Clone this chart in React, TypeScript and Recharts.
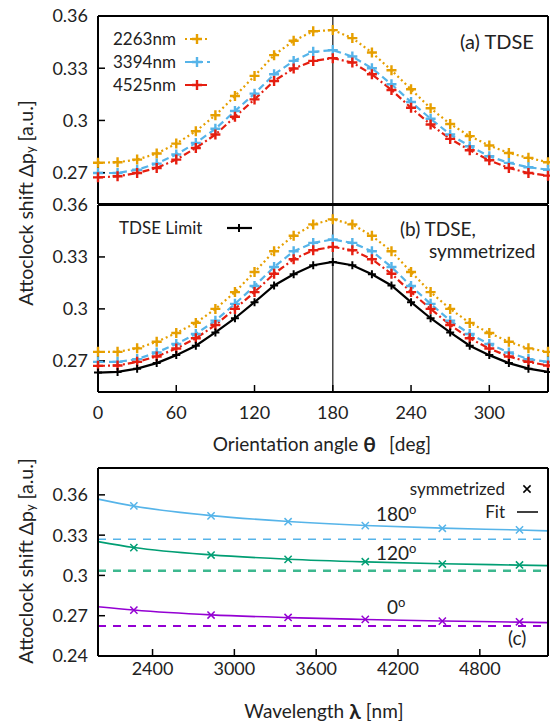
import React from "react";
import { ComposedChart, Line, Scatter, XAxis, YAxis, ReferenceLine, Legend } from "recharts";

// orientation angle grid [deg]
const theta = [0, 15, 30, 45, 60, 75, 90, 105, 120, 135, 150, 165, 180, 195, 210, 225, 240, 255, 270, 285, 300, 315, 330, 345];
const thetaTicks = [0, 60, 120, 180, 240, 300];
const shiftTicks = [0.27, 0.3, 0.33, 0.36];

// (a) TDSE
const tdse2263 = [0.2757, 0.276, 0.2775, 0.281, 0.2867, 0.2938, 0.303, 0.314, 0.3256, 0.3375, 0.3458, 0.3512, 0.3519, 0.3473, 0.339, 0.3288, 0.3179, 0.307, 0.298, 0.291, 0.2856, 0.2813, 0.2785, 0.276];
const tdse3394 = [0.2698, 0.2698, 0.2717, 0.2752, 0.2804, 0.2871, 0.2952, 0.3054, 0.3154, 0.3265, 0.3342, 0.3394, 0.3404, 0.3367, 0.33, 0.3208, 0.3106, 0.301, 0.2919, 0.2852, 0.2794, 0.2756, 0.2731, 0.2717];
const tdse4525 = [0.2673, 0.2679, 0.2698, 0.2727, 0.2775, 0.2842, 0.2919, 0.3021, 0.3121, 0.3227, 0.3298, 0.3342, 0.3358, 0.3333, 0.3265, 0.3175, 0.3073, 0.2977, 0.2894, 0.2829, 0.2771, 0.2727, 0.2698, 0.2683];

// (b) TDSE, symmetrized
const sym2263 = [0.2752, 0.2752, 0.2772, 0.281, 0.2861, 0.2919, 0.3, 0.3097, 0.3213, 0.3333, 0.3422, 0.3488, 0.3517, 0.3488, 0.3422, 0.3333, 0.3213, 0.3097, 0.3, 0.2919, 0.2861, 0.281, 0.2772, 0.2752];
const sym3394 = [0.2694, 0.2694, 0.271, 0.2748, 0.2797, 0.2855, 0.2932, 0.3029, 0.3132, 0.3242, 0.3333, 0.3381, 0.3401, 0.3381, 0.3333, 0.3242, 0.3132, 0.3029, 0.2932, 0.2855, 0.2797, 0.2748, 0.271, 0.2694];
const sym4525 = [0.2671, 0.2673, 0.2694, 0.2725, 0.2771, 0.283, 0.2907, 0.3, 0.3097, 0.3203, 0.3287, 0.3339, 0.3358, 0.3339, 0.3287, 0.3203, 0.3097, 0.3, 0.2907, 0.283, 0.2771, 0.2725, 0.2694, 0.2673];
const tdseLimit = [0.2632, 0.2636, 0.2655, 0.2687, 0.2733, 0.2787, 0.2864, 0.2946, 0.3039, 0.3135, 0.32, 0.3252, 0.3271, 0.3252, 0.32, 0.3135, 0.3039, 0.2946, 0.2864, 0.2787, 0.2733, 0.2687, 0.2655, 0.2636];

// (c) shift vs wavelength
const lambdas = [2263, 2829, 3394, 3960, 4525, 5091];
const symAt180 = [0.3518, 0.3443, 0.34, 0.3371, 0.3351, 0.3339];
const symAt120 = [0.3207, 0.3152, 0.312, 0.3102, 0.3085, 0.3078];
const symAt0 = [0.2742, 0.2705, 0.2687, 0.2673, 0.266, 0.2655];
const fitLambdas = [2000, 2263, 2829, 3394, 3960, 4525, 5091, 5300];
const fitAt180 = [0.3568, 0.3516, 0.3445, 0.3402, 0.3372, 0.3352, 0.3338, 0.3332];
const fitAt120 = [0.3252, 0.3208, 0.3153, 0.3121, 0.3101, 0.3087, 0.3077, 0.3073];
const fitAt0 = [0.2767, 0.2742, 0.2706, 0.2686, 0.2672, 0.2661, 0.2652, 0.2648];
const limitAt = [0.327, 0.3035, 0.2623]; // 180, 120, 0 deg
const lambdaTicks = [2400, 3000, 3600, 4200, 4800];
const shiftTicksC = [0.24, 0.27, 0.3, 0.33, 0.36];

const FONT = "Lato, 'Open Sans', sans-serif";
const TEXT = "#222";

const ORANGE = "#E69F00";
const BLUE = "#56B4E9";
const RED = "#E51E10";
const GREEN = "#009E73";
const PURPLE = "#9400D3";

const seriesA = [
  { key: "w2263", name: "2263nm", color: ORANGE, dash: "2 3", values: tdse2263 },
  { key: "w3394", name: "3394nm", color: BLUE, dash: "7 4", values: tdse3394 },
  { key: "w4525", name: "4525nm", color: RED, dash: "7 3 2 3", values: tdse4525 },
];
const seriesB = [
  { key: "w2263", name: "2263nm", color: ORANGE, dash: "2 3", values: sym2263 },
  { key: "w3394", name: "3394nm", color: BLUE, dash: "7 4", values: sym3394 },
  { key: "w4525", name: "4525nm", color: RED, dash: "7 3 2 3", values: sym4525 },
  { key: "limit", name: "TDSE Limit", color: "#000", dash: undefined, values: tdseLimit },
];
const seriesC = [
  { name: "180", color: BLUE, dashColor: BLUE, dashWidth: 1.5, sym: symAt180, fit: fitAt180, limit: limitAt[0] },
  { name: "120", color: GREEN, dashColor: "#3DB88F", dashWidth: 2.5, sym: symAt120, fit: fitAt120, limit: limitAt[1] },
  { name: "0", color: PURPLE, dashColor: PURPLE, dashWidth: 2, sym: symAt0, fit: fitAt0, limit: limitAt[2] },
];

const rowsA = theta.map((t, i) => {
  const row: any = { theta: t };
  seriesA.forEach((s) => (row[s.key] = s.values[i]));
  return row;
});
const rowsB = theta.map((t, i) => {
  const row: any = { theta: t };
  seriesB.forEach((s) => (row[s.key] = s.values[i]));
  return row;
});

const Plus = ({ cx, cy, color, size = 5, width = 2.4 }: any) =>
  cx == null || cy == null ? null : (
    <path d={`M${cx - size},${cy}H${cx + size}M${cx},${cy - size}V${cy + size}`} stroke={color} strokeWidth={width} fill="none" />
  );

const Cross = ({ cx, cy, fill, size = 3.6 }: any) =>
  cx == null || cy == null ? null : (
    <path
      d={`M${cx - size},${cy - size}L${cx + size},${cy + size}M${cx - size},${cy + size}L${cx + size},${cy - size}`}
      stroke={fill}
      strokeWidth={1.5}
      fill="none"
    />
  );

const tickStyle = { fill: TEXT, fontSize: 18, fontFamily: FONT };
const axisLine = { stroke: "#000", strokeWidth: 2 };
const tickLine = { stroke: "#000", strokeWidth: 1.5 };
const fmt = (v: number) => String(v);

const YTitle = ({ cx, cy }: any) => (
  <text x={cx} y={cy} transform={`rotate(-90 ${cx} ${cy})`} textAnchor="middle" dominantBaseline="central" fontFamily={FONT} fontSize={19.5} fill={TEXT}>
    Attoclock shift Δp
    <tspan fontSize={13} dy={5}>y</tspan>
    <tspan dy={-5} dx={5}>[a.u.]</tspan>
  </text>
);

const XTitle = ({ cx, cy, children, sym }: any) => (
  <text x={cx} y={cy} textAnchor="middle" dominantBaseline="central" fontFamily={FONT} fontSize={19} fill={TEXT}>
    {children}
    <tspan dx={5} fontWeight="bold" fontSize={21}>{sym}</tspan>
    <tspan dx={sym === "θ" ? 13 : 5}>[{sym === "θ" ? "deg" : "nm"}]</tspan>
  </text>
);

const legendRow = { display: "flex", alignItems: "center", height: 23, whiteSpace: "nowrap" as const };

const LegendAB = ({ rows, textWidth }: any) => (
  <div style={{ fontFamily: FONT, fontSize: 17, color: TEXT }}>
    {rows.map((r: any) => (
      <div key={r.name} style={legendRow}>
        <span style={{ width: textWidth }}>{r.name}</span>
        <svg width={26} height={14}>
          <line x1={0} y1={7} x2={25} y2={7} stroke={r.color} strokeWidth={2.2} strokeDasharray={r.dash} />
          <Plus cx={12} cy={7} color={r.color} size={r.dash ? 5 : 4} width={r.dash ? 2.4 : 2} />
        </svg>
      </div>
    ))}
  </div>
);

const LegendC = () => (
  <div style={{ fontFamily: FONT, fontSize: 17, color: TEXT }}>
    <div style={legendRow}>
      <span style={{ width: 106, textAlign: "right" }}>symmetrized</span>
      <svg width={34} height={14}>
        <Cross cx={22} cy={7} fill="#000" />
      </svg>
    </div>
    <div style={legendRow}>
      <span style={{ width: 106, textAlign: "right" }}>Fit</span>
      <svg width={34} height={14}>
        <line x1={12} y1={7} x2={33} y2={7} stroke="#000" strokeWidth={1.5} />
      </svg>
    </div>
  </div>
);

const Note = ({ x, y, size = 19, children }: any) => (
  <div style={{ position: "absolute", left: x, top: y - size * 0.53, fontSize: size, lineHeight: 1, color: TEXT, whiteSpace: "nowrap", fontFamily: FONT }}>
    {children}
  </div>
);

const Deg = ({ v }: any) => (
  <>
    {v}
    <sup style={{ fontSize: 13, verticalAlign: "0.55em", lineHeight: 0 }}>o</sup>
  </>
);

const thetaAxes = (bottomHeight: number, showLabels: boolean, title?: any) => [
  <XAxis
    key="xb"
    dataKey="theta"
    type="number"
    domain={[0, 345]}
    ticks={thetaTicks}
    interval={0}
    height={bottomHeight}
    tickSize={-7}
    tickMargin={21}
    tick={showLabels ? tickStyle : false}
    axisLine={axisLine}
    tickLine={tickLine}
    label={title}
  />,
  <XAxis key="xt" xAxisId="top" orientation="top" dataKey="theta" type="number" domain={[0, 345]} ticks={thetaTicks} interval={0} height={1} tickSize={-7} tick={false} axisLine={axisLine} tickLine={tickLine} />,
];

const shiftAxes = (title?: any) => [
  <YAxis key="yl" type="number" domain={[0.252, 0.36]} ticks={shiftTicks} interval={0} width={60} tickSize={-7} tickMargin={17} tick={tickStyle} tickFormatter={fmt} axisLine={axisLine} tickLine={tickLine} allowDataOverflow label={title} />,
  <YAxis key="yr" yAxisId="right" orientation="right" type="number" domain={[0.252, 0.36]} ticks={shiftTicks} interval={0} width={1} tickSize={-7} tick={false} axisLine={axisLine} tickLine={tickLine} allowDataOverflow />,
];

const thetaLines = (series: any[]) =>
  series.map((s) => (
    <Line
      key={s.key}
      type="linear"
      dataKey={s.key}
      name={s.name}
      stroke={s.color}
      strokeWidth={2.2}
      strokeDasharray={s.dash}
      dot={(p: any) => <Plus key={`${s.key}-${p.index}`} cx={p.cx} cy={p.cy} color={s.color} size={s.dash ? 5 : 4} width={s.dash ? 2.4 : 2} />}
      activeDot={false}
      isAnimationActive={false}
    />
  ));

export default function App() {
  return (
    <div style={{ position: "absolute", left: 0, top: 0, width: 550, height: 721, background: "#fff", fontFamily: FONT, overflow: "hidden" }}>
      {/* (a) TDSE */}
      <div style={{ position: "absolute", left: 0, top: 0 }}>
        <ComposedChart width={550} height={210} data={rowsA} margin={{ top: 15, right: 1, bottom: 5, left: 38 }}>
          {thetaAxes(1, false)}
          {shiftAxes()}
          <ReferenceLine x={180} stroke="#444" strokeWidth={1.5} />
          {thetaLines(seriesA)}
          <Legend
            layout="vertical"
            align="center"
            verticalAlign="middle"
            content={() => <LegendAB rows={seriesA} textWidth={72} />}
            wrapperStyle={{ left: 113, top: 27, width: 110, height: 70 }}
          />
        </ComposedChart>
      </div>

      {/* (b) TDSE, symmetrized */}
      <div style={{ position: "absolute", left: 0, top: 0 }}>
        <ComposedChart width={550} height={460} data={rowsB} margin={{ top: 204, right: 1, bottom: 28, left: 38 }}>
          {thetaAxes(40, true, <XTitle cx={322} cy={443} sym="θ">Orientation angle</XTitle>)}
          {shiftAxes(<YTitle cx={25} cy={203} />)}
          <ReferenceLine x={180} stroke="#444" strokeWidth={1.5} />
          {thetaLines(seriesB)}
          <Legend
            layout="vertical"
            align="center"
            verticalAlign="middle"
            content={() => <LegendAB rows={seriesB.slice(3)} textWidth={108} />}
            wrapperStyle={{ left: 119, top: 216, width: 140, height: 23 }}
          />
        </ComposedChart>
      </div>

      {/* (c) wavelength dependence */}
      <div style={{ position: "absolute", left: 0, top: 440 }}>
        <ComposedChart width={550} height={281} margin={{ top: 27, right: 1, bottom: 25, left: 38 }}>
          <XAxis
            dataKey="lambda"
            type="number"
            domain={[2000, 5300]}
            ticks={lambdaTicks}
            interval={0}
            height={40}
            tickSize={-7}
            tickMargin={13}
            tick={tickStyle}
            axisLine={axisLine}
            tickLine={tickLine}
            allowDataOverflow
            label={<XTitle cx={324} cy={270} sym="λ">Wavelength</XTitle>}
          />
          <XAxis xAxisId="top" orientation="top" dataKey="lambda" type="number" domain={[2000, 5300]} ticks={lambdaTicks} interval={0} height={1} tickSize={-7} tick={false} axisLine={axisLine} tickLine={tickLine} allowDataOverflow />
          <YAxis
            dataKey="v"
            type="number"
            domain={[0.24, 0.38]}
            ticks={shiftTicksC}
            interval={0}
            width={60}
            tickSize={-7}
            tickMargin={17}
            tick={tickStyle}
            tickFormatter={fmt}
            axisLine={axisLine}
            tickLine={tickLine}
            allowDataOverflow
            label={<YTitle cx={25} cy={121} />}
          />
          <YAxis yAxisId="right" orientation="right" dataKey="v" type="number" domain={[0.24, 0.38]} ticks={shiftTicksC} interval={0} width={1} tickSize={-7} tick={false} axisLine={axisLine} tickLine={tickLine} allowDataOverflow />
          {seriesC.map((s) => (
            <ReferenceLine key={`lim-${s.name}`} y={s.limit} stroke={s.dashColor} strokeWidth={s.dashWidth} strokeDasharray="8 7" />
          ))}
          {seriesC.map((s) => (
            <Line
              key={`fit-${s.name}`}
              data={fitLambdas.map((l, i) => ({ lambda: l, v: s.fit[i] }))}
              dataKey="v"
              type="monotone"
              stroke={s.color}
              strokeWidth={1.6}
              dot={false}
              activeDot={false}
              isAnimationActive={false}
            />
          ))}
          {seriesC.map((s) => (
            <Scatter
              key={`sym-${s.name}`}
              data={lambdas.map((l, i) => ({ lambda: l, v: s.sym[i] }))}
              dataKey="v"
              fill={s.color}
              shape={(p: any) => <Cross cx={p.cx} cy={p.cy} fill={s.color} />}
              isAnimationActive={false}
            />
          ))}
          <Legend
            layout="vertical"
            align="center"
            verticalAlign="middle"
            content={() => <LegendC />}
            wrapperStyle={{ left: 399, top: 37, width: 145, height: 46 }}
          />
        </ComposedChart>
      </div>

      <Note x={460} y={42} size={20}>(a) TDSE</Note>
      <Note x={400} y={229}>(b) TDSE,</Note>
      <Note x={429} y={251}>symmetrized</Note>
      <Note x={376} y={514}>
        <Deg v="180" />
      </Note>
      <Note x={376} y={553}>
        <Deg v="120" />
      </Note>
      <Note x={387} y={607}>
        <Deg v="0" />
      </Note>
      <Note x={508} y={638}>(c)</Note>
    </div>
  );
}
